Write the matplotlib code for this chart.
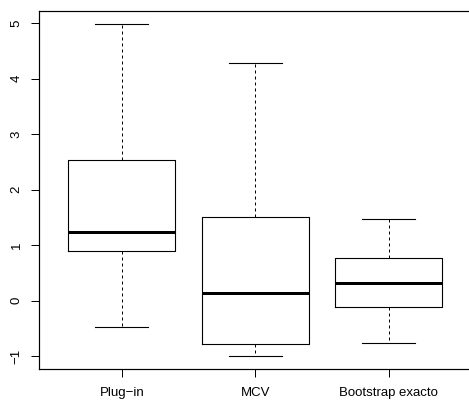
import matplotlib
matplotlib.use("Agg")
import matplotlib.pyplot as plt

# %%
labels = ["Plug\u2212in", "MCV", "Bootstrap exacto"]
whislo = [-0.47, -1.00, -0.76]
q1 = [0.90, -0.79, -0.12]
med = [1.23, 0.13, 0.31]
q3 = [2.54, 1.50, 0.77]
whishi = [4.98, 4.28, 1.47]
yticks = [-1, 0, 1, 2, 3, 4, 5]

stats = [{"label": lab, "whislo": lo, "q1": a, "med": m, "q3": b, "whishi": hi}
         for lab, lo, a, m, b, hi in zip(labels, whislo, q1, med, q3, whishi)]

# %%
plt.rcParams["font.family"] = ["Liberation Sans", "DejaVu Sans"]
px = 0.72  # one pixel in points at dpi 100

fig = plt.figure(figsize=(4.69, 4.01), dpi=100)
ax = fig.add_axes([39 / 469, (401 - 369.3) / 401, 432.5 / 469, (369.3 - 11) / 401])

ax.bxp(stats, positions=[1, 2, 3], widths=0.8, showfliers=False,
       boxprops=dict(color="black", linewidth=px * 1.1),
       medianprops=dict(color="black", linewidth=px * 3),
       whiskerprops=dict(color="black", linewidth=px, linestyle=(0, (3, 3))),
       capprops=dict(color="black", linewidth=px * 1.1),
       capwidths=0.4)

ax.set_xlim(0.38, 3.62)
ax.set_ylim(-1.239, 5.219)
ax.set_yticks(yticks)
ax.set_yticklabels([str(t).replace("-", "\u2212") for t in yticks], rotation=90, va="center")
ax.set_xticks([1, 2, 3])
ax.set_xticklabels(labels)
ax.tick_params(axis="both", direction="out", length=8 * px, width=px,
               labelsize=9.5, colors="black")
ax.tick_params(axis="y", pad=6)
ax.tick_params(axis="x", pad=7)
for s in ax.spines.values():
    s.set_linewidth(px * 1.2)
    s.set_color("black")
# the frame's right side falls just outside the image
ax.spines["right"].set_visible(False)

plt.savefig("out.png", dpi=100)
